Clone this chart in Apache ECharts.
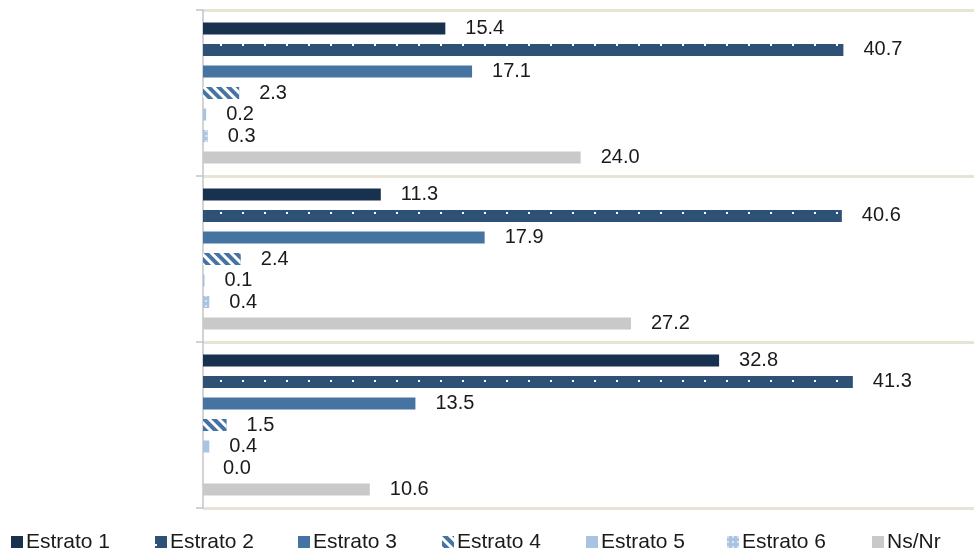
<!DOCTYPE html>
<html>
<head>
<meta charset="utf-8">
<script src="https://cdn.jsdelivr.net/npm/echarts@6/dist/echarts.min.js"></script>
<style>html,body{margin:0;padding:0;background:#fff}#c{width:974px;height:550px}</style>
</head>
<body>
<div id="c"></div>
<script>
const categories = ['Grupo A', 'Grupo B', 'Grupo C'];
const seriesNames = ['Estrato 1', 'Estrato 2', 'Estrato 3', 'Estrato 4', 'Estrato 5', 'Estrato 6', 'Ns/Nr'];
const estrato1 = [15.4, 11.3, 32.8];
const estrato2 = [40.7, 40.6, 41.3];
const estrato3 = [17.1, 17.9, 13.5];
const estrato4 = [2.3, 2.4, 1.5];
const estrato5 = [0.2, 0.1, 0.4];
const estrato6 = [0.3, 0.4, 0.0];
const nsnr = [24.0, 27.2, 10.6];

const values = [estrato1, estrato2, estrato3, estrato4, estrato5, estrato6, nsnr];
const colors = ['#17314f', '#2e5275', '#4674a2', '#4674a2', '#a9c4e2', '#a9c4e2', '#c9c9c9'];
const decals = [
  null,
  { symbol: 'rect', symbolSize: 1, dashArrayX: [2, 20], dashArrayY: [0, 8, 2, 2], color: '#ffffff' },
  null,
  { symbol: 'rect', symbolSize: 1, dashArrayX: [1, 0], dashArrayY: [3, 4], rotation: Math.PI / 4, color: '#ffffff' },
  null,
  { symbol: 'rect', symbolSize: 1, dashArrayX: [2, 3], dashArrayY: [2, 3], color: '#dbe6f3' },
  null
];
const legendLefts = [11, 155, 298, 442, 586, 727, 872];
const FONT = '"Liberation Sans", Arial, sans-serif';

const series = seriesNames.map((name, i) => {
  const itemStyle = { color: colors[i] };
  if (decals[i]) itemStyle.decal = decals[i];
  return {
    name: name,
    type: 'bar',
    data: values[i],
    barCategoryGap: '15%',
    barGap: '79%',
    itemStyle: itemStyle,
    label: {
      show: true,
      position: 'right',
      distance: 20,
      color: '#1a1a1a',
      fontSize: 20,
      fontFamily: FONT,
      formatter: p => Number(p.value).toFixed(1)
    },
    emphasis: { disabled: true }
  };
});

const legends = seriesNames.map((n, i) => ({
  left: legendLefts[i],
  top: 531,
  padding: 0,
  itemWidth: 12,
  itemHeight: 12,
  icon: 'rect',
  textStyle: { fontSize: 21, lineHeight: 22, fontFamily: FONT, color: '#1a1a1a', padding: [0, 0, 0, -2] },
  data: [n]
}));

const chart = echarts.init(document.getElementById('c'));
chart.setOption({
  animation: false,
  aria: { enabled: true, decal: { show: false } },
  grid: { left: 203, right: 0, top: 10, bottom: 42 },
  xAxis: { type: 'value', min: 0, max: 49, show: false },
  yAxis: {
    type: 'category',
    data: categories,
    inverse: true,
    axisLine: { show: true, lineStyle: { color: '#c4c4c4', width: 1.5 } },
    axisTick: { show: true, length: 7, lineStyle: { color: '#c4c4c4', width: 1.5 } },
    axisLabel: { show: false },
    splitLine: { show: true, lineStyle: { color: '#e7e3d5', width: 3 } }
  },
  legend: legends,
  series: series
});
</script>
</body>
</html>
